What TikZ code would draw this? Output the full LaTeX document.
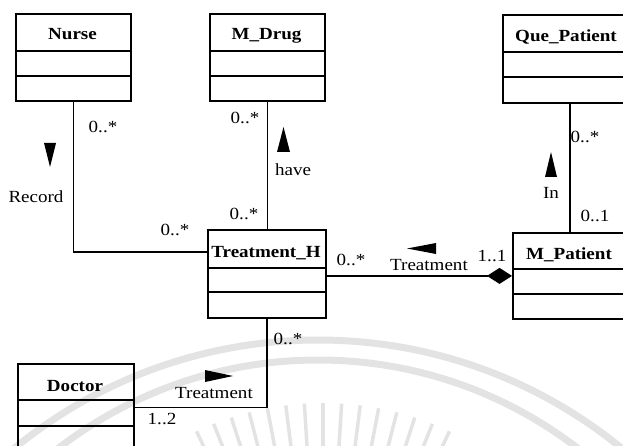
\documentclass[tikz,border=0pt]{standalone}
\usepackage{fontspec}
\setmainfont{Liberation Serif}[FakeStretch=1.12]
\usetikzlibrary{arrows.meta}

\begin{document}
\begin{tikzpicture}[x=1pt,y=-1pt,
  every node/.style={inner sep=0pt},
  clsbox/.style={draw, line width=1.8pt, anchor=north west},
  ctitle/.style={font=\fontsize{17}{20}\selectfont\bfseries, anchor=base},
  sepline/.style={line width=1.6pt},
  assoc/.style={line width=1.2pt},
  lbl/.style={font=\fontsize{17}{20}\selectfont},
  navtri/.style={fill=black},
  wmarc/.style={draw=black!11, line width=7pt},
  wmray/.style={draw=black!11, line width=3.5pt},
]
\useasboundingbox (0,0) rectangle (623,446);
\clip (0,0) rectangle (623,446);

% faint background emblem
\draw[wmarc] (318,820) circle[radius=480];
\draw[wmarc] (318,786) circle[radius=426];
\coordinate (wmC) at (323,700);
\foreach \k in {-7,...,7}
  \draw[wmray] ([shift={({-90+\k*3.6}:235)}]wmC) -- ([shift={({-90+\k*3.6}:297)}]wmC);

% class boxes
\node[clsbox, minimum width=115pt, minimum height=87pt] (nurse) at (15,13) {};
\draw[sepline] (15,51) -- (130,51) (15,76) -- (130,76);
\node[ctitle] (nurseT) at (72.5,40) {Nurse};

\node[clsbox, minimum width=115pt, minimum height=87pt] (mdrug) at (209,13) {};
\draw[sepline] (209,51) -- (324,51) (209,76) -- (324,76);
\node[ctitle] (mdrugT) at (266.5,40) {M\_Drug};

\node[clsbox, minimum width=140pt, minimum height=88pt] (que) at (502,14) {};
\draw[sepline] (502,52) -- (642,52) (502,77) -- (642,77);
\node[ctitle] (queT) at (566,42) {Que\_Patient};

\node[clsbox, minimum width=118pt, minimum height=88pt] (treat) at (207,229) {};
\draw[sepline] (207,268) -- (325,268) (207,292) -- (325,292);
\node[ctitle] (treatT) at (266,257) {Treatment\_H};

\node[clsbox, minimum width=120pt, minimum height=86pt] (mpat) at (512,232) {};
\draw[sepline] (512,269) -- (632,269) (512,294) -- (632,294);
\node[ctitle] (mpatT) at (569,259) {M\_Patient};

\node[clsbox, minimum width=116pt, minimum height=87pt] (doctor) at (17,363) {};
\draw[sepline] (17,400) -- (133,400) (17,426) -- (133,426);
\node[ctitle] (doctorT) at (75,391) {Doctor};

% associations
\draw[assoc] (nurse.south) |- ([yshift=22pt]treat.west);
\draw[assoc] (mdrug.south) -- (mdrug.south |- treat.north);
\draw[assoc] ([xshift=-3pt]que.south) -- ([xshift=-3pt]que.south |- mpat.north);
\draw[assoc, -{Diamond[length=25pt,width=16pt]}] (treat.east |- mpat.west) -- (mpat.west);
\draw[assoc] (treat.south) |- (doctor.east);

% reading-direction triangles
\fill[navtri] (44,143) -- (56,143) -- (50,167) -- cycle;
\fill[navtri] (277,152) -- (290,152) -- (283.5,127) -- cycle;
\fill[navtri] (545,177) -- (557,177) -- (551,152) -- cycle;
\fill[navtri] (407,248.5) -- (436,243) -- (436,254) -- cycle;
\fill[navtri] (205,370) -- (205,382) -- (233,376) -- cycle;

% multiplicities and role names
\node[lbl] (m1) at (103,127) {0..*};
\node[lbl] (r1) at (36,197) {Record};
\node[lbl] (m2) at (245,118) {0..*};
\node[lbl] (r2) at (293,170) {have};
\node[lbl] (m3) at (244,214) {0..*};
\node[lbl] (m4) at (175,230) {0..*};
\node[lbl] (m5) at (351,260) {0..*};
\node[lbl] (r3) at (429,265) {Treatment};
\node[lbl] (m6) at (492,256) {1..1};
\node[lbl] (m7) at (585,137) {0..*};
\node[lbl] (r4) at (551,193) {In};
\node[lbl] (m8) at (595,216) {0..1};
\node[lbl] (m9) at (288,339) {0..*};
\node[lbl] (r5) at (214,393) {Treatment};
\node[lbl] (m10) at (162,419) {1..2};
\end{tikzpicture}
\end{document}
